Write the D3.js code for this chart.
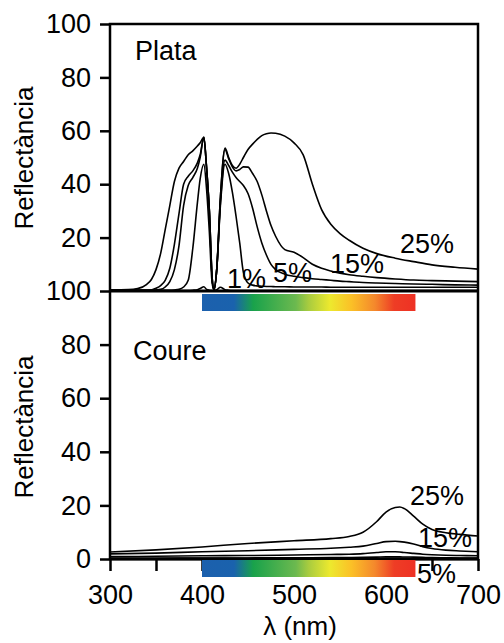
<!DOCTYPE html>
<html>
<head>
<meta charset="utf-8">
<script src="https://cdn.jsdelivr.net/npm/d3@7"></script>
<style>
  html, body { margin: 0; padding: 0; background: #fff; }
  svg { display: block; font-family: "Liberation Sans", Arial, sans-serif; }
</style>
</head>
<body>
<svg id="chart" width="504" height="643"></svg>
<script>
// ---------- DATA ----------
const xTicks = [300, 350, 400, 450, 500, 550, 600, 650, 700];
const xTickLabels = ["300", "", "400", "", "500", "", "600", "", "700"];
const yTicksTop = [20, 40, 60, 80, 100];
const yTicksBottom = [0, 20, 40, 60, 80, 100];
const panelNames = ["Plata", "Coure"];
const yTitle = "Reflectància";
const xTitle = "λ (nm)";
const spectrumRange = [400, 632];

const lambdaPlata = [300, 320, 330, 340, 345, 350, 355, 360, 365, 370, 375, 380, 385, 390, 395, 398, 402, 405, 408, 411, 413, 416, 420, 425, 429, 433, 437, 441, 445, 450, 455, 460, 465, 470, 475, 480, 490, 500, 510, 520, 530, 540, 550, 560, 575, 590, 610, 630, 650, 675, 700];
const plata25 = [0.4, 0.5, 0.9, 2.5, 4.3, 8, 14, 23, 32, 41, 46, 48.5, 51, 52.5, 54.3, 55.5, 57.6, 46, 30, 5, 0.5, 8, 35, 53.5, 50, 47, 46, 47.5, 50, 53, 55, 56.8, 58.2, 58.9, 59.2, 59.1, 58, 55.5, 51, 40, 30.5, 25, 21.5, 19, 16, 14, 12.3, 11, 9.8, 8.9, 8.2];
const plata15 = [0.3, 0.3, 0.3, 0.3, 0.4, 1, 2, 4, 8.5, 17.5, 29, 40, 43, 45, 48, 51, 57.6, 46, 30, 5, 0.5, 8, 35, 53, 49.5, 46.5, 45, 45.5, 46.5, 46.4, 44, 41, 36, 30, 24.5, 20.5, 15.5, 14.5, 12.5, 10, 8.5, 7.5, 6.7, 6.1, 5.5, 5, 4.5, 4.1, 3.9, 3.7, 3.5];
const plata5 = [0.3, 0.3, 0.3, 0.3, 0.3, 0.4, 0.6, 1.5, 3.5, 8, 17, 32, 39.5, 42.5, 46, 50, 57.6, 46, 30, 5, 0.5, 8, 33, 49, 47, 44.5, 42.5, 41, 39.5, 36.5, 31, 24, 18, 13.5, 10, 8, 6.3, 5.5, 5, 4.6, 4.3, 4, 3.7, 3.5, 3.2, 3, 2.8, 2.6, 2.5, 2.3, 2.2];
const plata1 = [0.3, 0.3, 0.3, 0.3, 0.3, 0.3, 0.3, 0.3, 0.3, 0.4, 0.6, 1.5, 4, 16, 33, 42, 47.5, 38, 22, 3, 0.5, 8, 32, 47.5, 44, 37, 28, 18, 7, 3, 2.2, 1.9, 1.8, 1.7, 1.7, 1.6, 1.6, 1.5, 1.5, 1.5, 1.5, 1.4, 1.4, 1.4, 1.4, 1.4, 1.4, 1.4, 1.4, 1.4, 1.4];
const plata0 = [0.2, 0.2, 0.2, 0.2, 0.2, 0.2, 0.2, 0.2, 0.2, 0.2, 0.2, 0.2, 0.2, 0.3, 0.5, 0.9, 1.6, 0.6, 0.3, 0.2, 0.2, 0.5, 1.4, 0.5, 0.3, 0.2, 0.2, 0.2, 0.2, 0.2, 0.2, 0.2, 0.2, 0.2, 0.2, 0.2, 0.2, 0.2, 0.2, 0.2, 0.2, 0.2, 0.2, 0.2, 0.2, 0.2, 0.2, 0.2, 0.2, 0.2, 0.2];

const lambdaCoure = [300, 350, 400, 450, 500, 540, 560, 575, 590, 600, 610, 615, 620, 630, 640, 650, 665, 680, 700];
const coure25 = [2.6, 3.4, 4.5, 5.8, 6.8, 7.6, 8.4, 10, 14, 17.5, 19.2, 19.4, 18.8, 16, 13, 11, 9.8, 9.2, 8.6];
const coure15 = [1.9, 2.2, 2.7, 3.1, 3.6, 4, 4.4, 4.8, 5.8, 6.5, 6.6, 6.5, 6.3, 5.6, 4.6, 3.9, 3.3, 3, 2.7];
const coure5 = [0.9, 1.0, 1.2, 1.3, 1.5, 1.7, 1.8, 2.0, 2.4, 2.7, 2.7, 2.6, 2.4, 2.1, 1.8, 1.6, 1.4, 1.3, 1.2];
const coure1 = [0.3, 0.3, 0.35, 0.4, 0.45, 0.5, 0.55, 0.6, 0.7, 0.8, 0.8, 0.8, 0.75, 0.7, 0.6, 0.5, 0.45, 0.4, 0.4];

const plataLabels = ["25%", "15%", "5%", "1%"];
const coureLabels = ["25%", "15%", "5%"];

// ---------- LAYOUT ----------
const svg = d3.select("#chart");
const L = 110, R = 478, T = 24, MID = 291, B = 559;
const x = d3.scaleLinear().domain([300, 700]).range([L, R]);
const yTop = d3.scaleLinear().domain([0, 100]).range([MID, T]);
const yBot = d3.scaleLinear().domain([0, 100]).range([B, MID]);
const FS = 27;

// spectrum gradient
const defs = svg.append("defs");
const grad = defs.append("linearGradient").attr("id", "spec").attr("x1", "0%").attr("x2", "100%");
[[0, "#1c60ad"], [0.15, "#1a62ad"], [0.24, "#19a24b"], [0.44, "#6cb94f"], [0.50, "#a9cc3f"],
 [0.60, "#ede92e"], [0.70, "#fbc027"], [0.81, "#f4882c"], [0.90, "#ee3d25"], [1, "#ee3124"]]
  .forEach(([o, c]) => grad.append("stop").attr("offset", o).attr("stop-color", c));

function drawCurves(lams, series, y) {
  const line = d3.line().x(d => x(d[0])).y(d => y(d[1])).curve(d3.curveMonotoneX);
  series.forEach(vals => {
    svg.append("path")
      .datum(lams.map((l, i) => [l, vals[i]]))
      .attr("d", line)
      .attr("fill", "none").attr("stroke", "#000").attr("stroke-width", 1.6);
  });
}
drawCurves(lambdaPlata, [plata25, plata15, plata5, plata1, plata0], yTop);
drawCurves(lambdaCoure, [coure25, coure15, coure5, coure1], yBot);

// axes
function styleAxis(g) {
  g.select(".domain").remove();
  g.selectAll(".tick line").attr("stroke", "#000").attr("stroke-width", 2.5);
  g.selectAll(".tick text").attr("fill", "#000").style("font-size", FS + "px")
    .style("font-family", '"Liberation Sans", Arial, sans-serif');
}
svg.append("g").attr("transform", `translate(${L},0)`)
  .call(d3.axisLeft(yTop).tickValues(yTicksTop).tickSize(10).tickPadding(9).tickFormat(d3.format("d")))
  .call(styleAxis);
svg.append("g").attr("transform", `translate(${L},0)`)
  .call(d3.axisLeft(yBot).tickValues(yTicksBottom).tickSize(10).tickPadding(9).tickFormat(d3.format("d")))
  .call(styleAxis);
svg.append("g").attr("transform", `translate(0,${B})`)
  .call(d3.axisBottom(x).tickValues(xTicks).tickSize(12).tickPadding(14)
    .tickFormat((d, i) => xTickLabels[i]))
  .call(styleAxis);

// frame
svg.append("rect").attr("x", L).attr("y", T).attr("width", R - L).attr("height", B - T)
  .attr("fill", "none").attr("stroke", "#000").attr("stroke-width", 2.5);
svg.append("line").attr("x1", L).attr("x2", R).attr("y1", MID).attr("y2", MID)
  .attr("stroke", "#000").attr("stroke-width", 3);
svg.append("line").attr("x1", L).attr("x2", R).attr("y1", B).attr("y2", B)
  .attr("stroke", "#000").attr("stroke-width", 3);

// spectrum bars
[MID + 3, B + 1].forEach(yy => {
  svg.append("rect").attr("x", x(spectrumRange[0])).attr("y", yy)
    .attr("width", x(spectrumRange[1]) - x(spectrumRange[0])).attr("height", 17)
    .attr("fill", "url(#spec)");
});

// texts
const txt = (s, xx, yy, size, anchor) => svg.append("text").attr("x", xx).attr("y", yy)
  .attr("text-anchor", anchor || "start").style("font-size", size + "px").attr("fill", "#000").text(s);

txt(panelNames[0], 135, 60, 27);
txt(panelNames[1], 133, 360, 27);

const plataPos = [[400, 253], [330, 273], [273, 282], [227, 288]];
plataLabels.forEach((s, i) => txt(s, plataPos[i][0], plataPos[i][1], 27));
const courePos = [[410, 505], [418, 547], [417, 583]];
coureLabels.forEach((s, i) => txt(s, courePos[i][0], courePos[i][1], 27));

svg.append("text").attr("transform", "translate(33,158) rotate(-90)").attr("text-anchor", "middle")
  .style("font-size", "26px").text(yTitle);
svg.append("text").attr("transform", "translate(33,427) rotate(-90)").attr("text-anchor", "middle")
  .style("font-size", "26px").text(yTitle);
txt(xTitle, 300, 635, 26, "middle");
</script>
</body>
</html>
